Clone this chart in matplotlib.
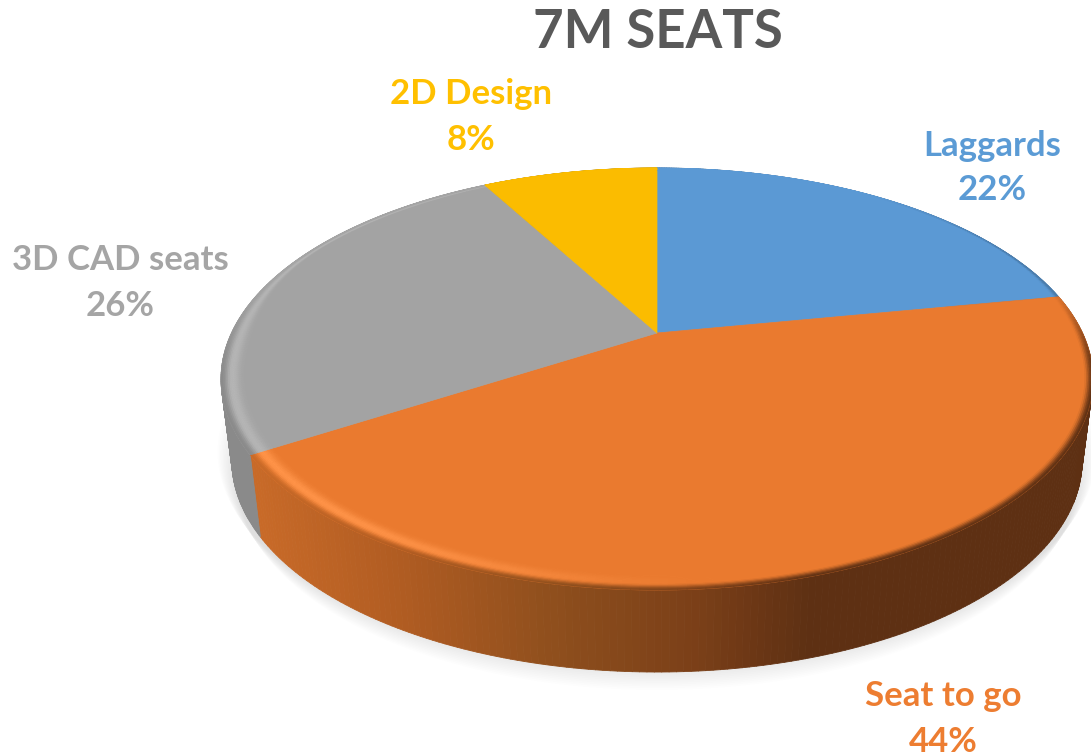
import numpy as np
import matplotlib
matplotlib.use("Agg")
import matplotlib.pyplot as plt
from matplotlib.collections import PolyCollection

title = "7M SEATS"
labels = ["Laggards", "Seat to go", "3D CAD seats", "2D Design"]
shares = [22, 44, 26, 8]
top_colors = ["#5B99D4", "#EA7A2F", "#A3A3A3", "#FBBC00"]
text_colors = ["#5B9BD5", "#ED7D31", "#A5A5A5", "#FFC000"]
# centre of each two-line label, in pixels
label_pos = [(992, 168), (943, 719), (120, 283), (471, 117)]

# perspective of the disc as seen in the picture
CX, CY = 657, 333
A0, C0, K = 425.5, 201.0, 0.218
DEPTH = 82
NARROW = 0.975
RIM = 0.05

# wall shading goes from light at the left to dark at the right
wall_x = [255, 400, 550, 700, 810, 1100]
wall_r = [200, 176, 143, 122, 94, 94]
wall_g = [106, 92, 79, 63, 48, 48]
wall_b = [40, 34, 29, 24, 19, 19]


def project(theta, r=1.0):
    # theta is clockwise from 12 o'clock, in radians
    x = r * np.sin(theta)
    y = r * np.cos(theta)
    d = 1 + K * y
    return CX + A0 * x / d, CY - C0 * y / d


def hex_rgb(c):
    return np.array(matplotlib.colors.to_rgb(c))


def wall_color(x, slice_i):
    if slice_i == 1:
        return np.array([np.interp(x, wall_x, wall_r),
                         np.interp(x, wall_x, wall_g),
                         np.interp(x, wall_x, wall_b)]) / 255.0
    if slice_i == 2:
        return hex_rgb("#8A8A8A")
    return hex_rgb(top_colors[slice_i]) * 0.6


def smooth(a, b, t):
    s = np.clip((t - a) / (b - a), 0, 1)
    return s * s * (3 - 2 * s)


fig = plt.figure(figsize=(10.91, 7.56), dpi=100)
ax = fig.add_axes([0, 0, 1, 1])
ax.set_xlim(0, 1091)
ax.set_ylim(756, 0)
ax.axis("off")

edges = np.cumsum([0] + shares) / sum(shares) * 2 * np.pi

# soft shadow under the pie
t_all = np.linspace(0, 2 * np.pi, 361)
xs, ys = project(t_all)
for i in range(16):
    grow = NARROW + (i - 4) * 0.003
    shift = DEPTH + 22 - i * 1.8
    ax.fill(CX + (xs - CX) * grow, ys + shift - 4, color="#000000", alpha=0.009, lw=0, zorder=1)

# side wall
polys, cols = [], []
for i in range(len(shares)):
    th = np.linspace(edges[i], edges[i + 1], 200)
    x, y = project(th)
    xb = CX + (x - CX) * NARROW
    for j in range(len(th) - 1):
        polys.append([(x[j], y[j]), (x[j + 1], y[j + 1]),
                      (xb[j + 1], y[j + 1] + DEPTH), (xb[j], y[j] + DEPTH)])
        cols.append(wall_color((x[j] + x[j + 1]) / 2, i))
ax.add_collection(PolyCollection(polys, facecolors=cols, edgecolors=cols, linewidths=0.6, zorder=2))

# flat top of each slice
for i in range(len(shares)):
    th = np.linspace(edges[i], edges[i + 1], 200)
    x, y = project(th)
    ax.fill(np.r_[CX, x], np.r_[CY, y], color=top_colors[i], lw=0.5, zorder=3)

# rounded rim: highlight on the front left, falling into the wall colour
polys, cols = [], []
steps = np.linspace(0, 1, 15)
for i in range(len(shares)):
    th = np.linspace(edges[i], edges[i + 1], 160)
    base = hex_rgb(top_colors[i])
    lift = 0.07 if i == 2 else 0.1
    for j in range(len(th) - 1):
        tm = (th[j] + th[j + 1]) / 2
        xm, _ = project(tm)
        wc = wall_color(xm, i)
        front = -np.cos(tm)
        # strongest highlight on the left side of the disc, gone by the right
        h = 1 - smooth(300, 760, xm)
        if i not in (1, 2):
            h = 0
        # the back edge has no visible wall, only the far right of the blue one
        dark = smooth(-0.3, 0.25, front)
        if i == 0:
            dark = smooth(0.55, 1.0, np.sin(tm)) * 0.5
        width = RIM * (0.3 + 0.7 * smooth(-0.5, 0.1, front))
        for k in range(len(steps) - 1):
            t0, t1 = steps[k], steps[k + 1]
            tc = (t0 + t1) / 2
            bump = np.exp(-((tc - 0.5) / 0.3) ** 2)
            c = base + (np.minimum(base + lift, 1) - base) * h * bump
            c = c + (wc - c) * smooth(0.6, 1.0, tc) * dark
            r0 = 1 - width * (1 - t0)
            r1 = 1 - width * (1 - t1)
            xa, ya = project(th[j], r0)
            xb, yb = project(th[j + 1], r0)
            xc, yc = project(th[j + 1], r1)
            xd, yd = project(th[j], r1)
            polys.append([(xa, ya), (xb, yb), (xc, yc), (xd, yd)])
            cols.append(c)
ax.add_collection(PolyCollection(polys, facecolors=cols, edgecolors=cols, linewidths=0.4, zorder=4))

ax.text(658, 32, title, ha="center", va="center", color="#595959",
        family="Lato", weight="bold", fontsize=38)

for i in range(len(labels)):
    ax.text(label_pos[i][0], label_pos[i][1], "%s\n%d%%" % (labels[i], shares[i]),
            ha="center", va="center", color=text_colors[i], family="Lato",
            weight="bold", fontsize=25, linespacing=1.5)

fig.savefig("out.png", dpi=100)
